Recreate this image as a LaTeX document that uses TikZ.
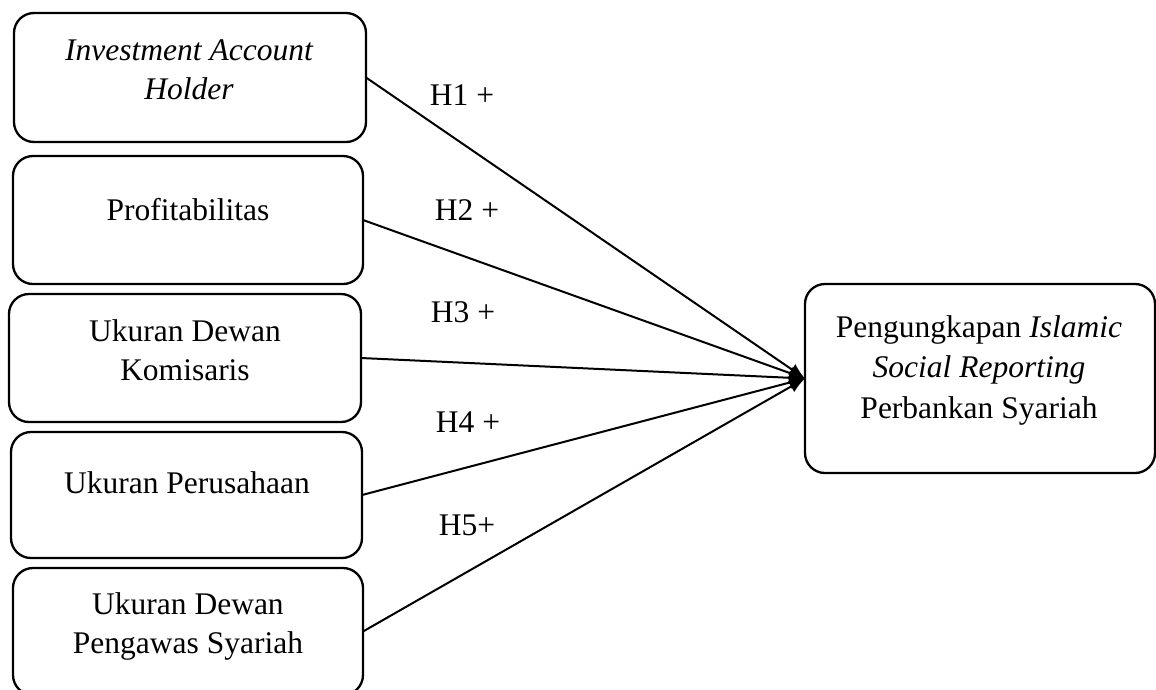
\documentclass[tikz,border=0pt]{standalone}
\usepackage{fontspec}
\setmainfont{Liberation Serif}
\usetikzlibrary{arrows.meta}
\begin{document}
\begin{tikzpicture}[x=1pt,y=-1pt,
  box/.style={draw, line width=2.3pt, rounded corners=20pt, inner sep=0pt, outer sep=0pt},
  lbl/.style={anchor=base, inner sep=0pt, align=center, font=\fontsize{31.5}{39}\selectfont},
  conn/.style={line width=2pt, -{Latex[length=16pt,width=13pt]}}]
\useasboundingbox (0,0) rectangle (1156,689);
% left boxes
\node[box, minimum width=352pt, minimum height=129pt] (b1) at (190,77.5) {};
\node[box, minimum width=350pt, minimum height=128pt] (b2) at (188,220) {};
\node[box, minimum width=352pt, minimum height=128pt] (b3) at (185,358) {};
\node[box, minimum width=351pt, minimum height=126pt] (b4) at (186.5,495) {};
\node[box, minimum width=350pt, minimum height=127pt] (b5) at (188,631.5) {};
% right box
\node[box, minimum width=350pt, minimum height=189pt] (out) at (980,378.5) {};
% texts (base = baseline of last line)
\node[lbl] (t1) at (189,99) {\itshape Investment Account\\\itshape Holder};
\node[lbl] (t2) at (188,220) {Profitabilitas};
\node[lbl] (t3) at (185,380) {Ukuran Dewan\\Komisaris};
\node[lbl] (t4) at (187,493) {Ukuran Perusahaan};
\node[lbl] (t5) at (188,653) {Ukuran Dewan\\Pengawas Syariah};
\node[lbl, font=\fontsize{31.5}{40.5}\selectfont] (t6) at (979,418) {Pengungkapan \textit{Islamic}\\\textit{Social Reporting}\\Perbankan Syariah};
% hypothesis labels
\node[lbl] (h1) at (462,105) {H1 +};
\node[lbl] (h2) at (467,220) {H2 +};
\node[lbl] (h3) at (463,322) {H3 +};
\node[lbl] (h4) at (468,432) {H4 +};
\node[lbl] (h5) at (467,535) {H5+};
% connectors
\draw[conn] (b1.east) -- (out.west);
\draw[conn] (b2.east) -- (out.west);
\draw[conn] (b3.east) -- (out.west);
\draw[conn] (b4.east) -- (out.west);
\draw[conn] (b5.east) -- (out.west);
\end{tikzpicture}
\end{document}
